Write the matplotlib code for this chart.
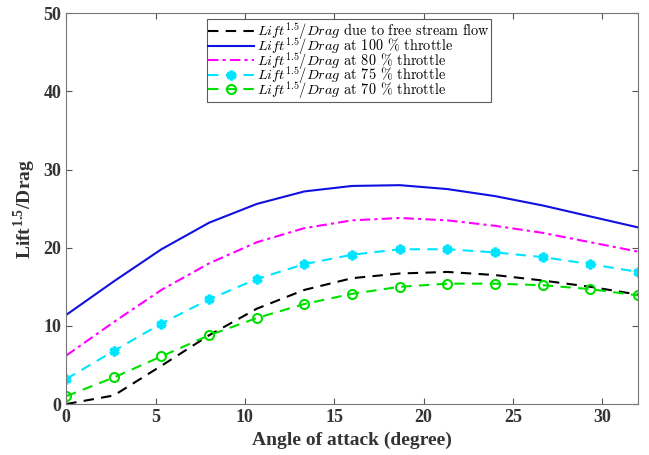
import matplotlib.pyplot as plt
import numpy as np

plt.rcParams['mathtext.fontset'] = 'custom'
plt.rcParams['mathtext.it'] = 'cmmi10'
plt.rcParams['mathtext.rm'] = 'cmr10'
plt.rcParams['mathtext.bf'] = 'Liberation Serif:bold'

# Angle of attack (degree)
alpha = [0, 2.67, 5.33, 8, 10.67, 13.33, 16, 18.67, 21.33, 24, 26.67, 29.33, 32]

free_stream = [0.0, 1.1, 4.9, 8.8, 12.2, 14.6, 16.1, 16.7, 16.9, 16.5, 15.8, 15.0, 14.0]
throttle_100 = [11.4, 15.7, 19.8, 23.2, 25.6, 27.2, 27.9, 28.0, 27.5, 26.6, 25.4, 24.0, 22.6]
throttle_80 = [6.2, 10.5, 14.6, 18.0, 20.7, 22.5, 23.5, 23.8, 23.5, 22.8, 21.9, 20.7, 19.5]
throttle_75 = [3.2, 6.8, 10.3, 13.4, 16.0, 17.9, 19.1, 19.8, 19.8, 19.4, 18.8, 17.9, 16.9]
throttle_70 = [1.0, 3.4, 6.1, 8.8, 11.0, 12.8, 14.1, 15.0, 15.4, 15.4, 15.2, 14.7, 13.9]

lab = r'$Lift^{1.5}/Drag$'
labels = [lab + ' due to free stream flow',
          lab + r' at 100 % throttle',
          lab + r' at 80 % throttle',
          lab + r' at 75 % throttle',
          lab + r' at 70 % throttle']

fig = plt.figure(figsize=(6.49, 4.55), dpi=100)
ax = fig.add_axes([0.102, 0.112, 0.881, 0.859])

ax.plot(alpha, free_stream, color='black', ls=(0, (5, 3.5)), lw=1.5, label=labels[0])
ax.plot(alpha, throttle_100, color='#1010e0', ls='-', lw=1.5, label=labels[1])
ax.plot(alpha, throttle_80, color='#ff00ff', ls=(0, (5, 2, 1.5, 2)), lw=1.5, label=labels[2])
ax.plot(alpha, throttle_75, color='#00e5ff', ls=(0, (5, 3.5)), lw=1.5, marker=(6, 2, 0),
        ms=7, mfc='#00e5ff', mec='#00e5ff', mew=2.5, label=labels[3])
ax.plot(alpha, throttle_70, color='#00e000', ls=(0, (5, 3.5)), lw=1.5, marker='o',
        ms=6.5, mfc='none', mec='#00e000', mew=1.5, label=labels[4])

ax.set_xlim(0, 32)
ax.set_ylim(0, 50)
ax.set_xticks([0, 5, 10, 15, 20, 25, 30])
ax.set_yticks([0, 10, 20, 30, 40, 50])
ax.tick_params(direction='in', top=True, right=True, length=4, color='#555555')
for s in ax.spines.values():
    s.set_color('#777777')

for t in ax.get_xticklabels() + ax.get_yticklabels():
    t.set_fontfamily('Liberation Serif')
    t.set_fontweight('bold')
    t.set_fontsize(13)
    t.set_color('#333333')

ax.set_xlabel('Angle of attack (degree)', fontfamily='Liberation Serif', fontweight='bold',
              fontsize=14, color='#333333')
ax.set_ylabel(r'Lift$^{\mathbf{1.5}}$/Drag', fontfamily='Liberation Serif', fontweight='bold',
              fontsize=14, color='#333333')

leg = ax.legend(loc='upper left', bbox_to_anchor=(0.246, 0.985), prop={'family': 'cmr10', 'size': 10.3},
                frameon=True, fancybox=False, handlelength=3.2, handletextpad=0.2,
                labelspacing=-0.5, borderpad=0.1, borderaxespad=0.0)
leg.get_frame().set_edgecolor('#333333')
leg.get_frame().set_linewidth(0.8)

fig.savefig('out.png', dpi=100)
